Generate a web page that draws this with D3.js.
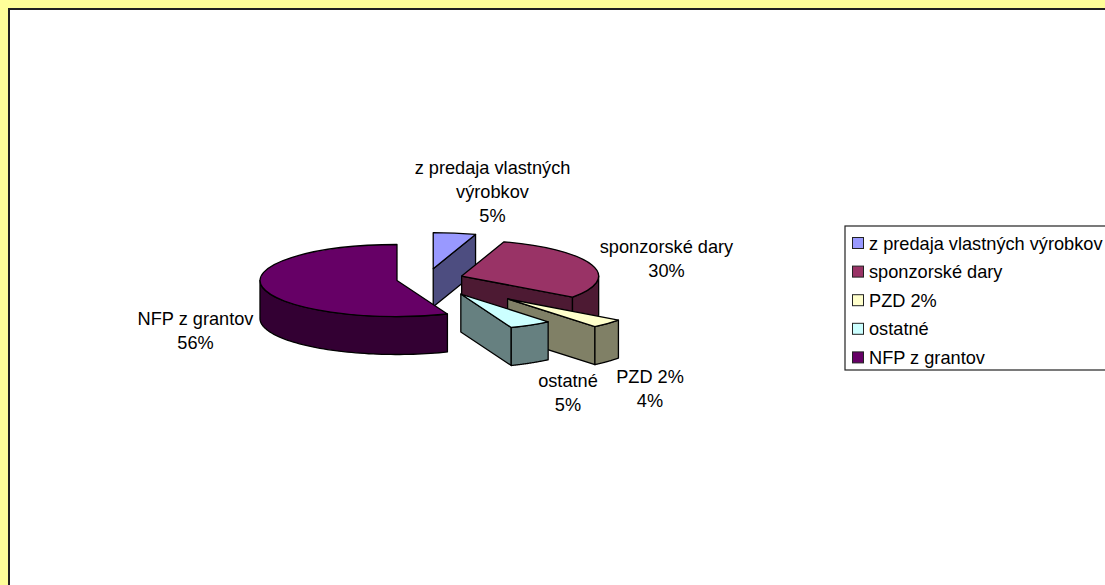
<!DOCTYPE html>
<html>
<head>
<meta charset="utf-8">
<script src="https://cdnjs.cloudflare.com/ajax/libs/d3/7.8.5/d3.min.js"></script>
<style>
html,body{margin:0;padding:0;background:#fff;overflow:hidden}
svg{display:block}
text{font-family:"Liberation Sans",Arial,sans-serif;font-size:18.2px;fill:#000}
</style>
</head>
<body>
<svg id="c" width="1105" height="585"></svg>
<script>
const categories = ["z predaja vlastných výrobkov","sponzorské dary","PZD 2%","ostatné","NFP z grantov"];
const values = [5,30,4,5,56];
const labelLines = [["z predaja vlastných","výrobkov","5%"],["sponzorské dary","30%"],["PZD 2%","4%"],["ostatné","5%"],["NFP z grantov","56%"]];
const colors = ["#9999FF","#993366","#FFFFCC","#CCFFFF","#660066"];
const explosion = [0.29,0.266,0.807,0.485,0.223];

const W=1105,H=585,cx=427,cy=279,rx=137,ry=36,depth=38;
const labelPos = [[492.5,174],[666.5,253],[650,383],[568,386.5],[195.5,325]];
const lineGap = 24.2;
const drawOrder = [0,1,4,2,3];

const svg=d3.select("#c");
svg.append("rect").attr("width",W).attr("height",H).attr("fill","#FFFF99");
svg.append("rect").attr("x",9).attr("y",9).attr("width",W+20).attr("height",H+20)
  .attr("fill","#fff").attr("stroke","#222").attr("stroke-width",2);

const pie=d3.pie().sort(null).value(d=>d).startAngle(0).endAngle(2*Math.PI);
const arcs=pie(values);
const unitArc=d3.arc().innerRadius(0).outerRadius(1);
const half=c=>{const q=d3.rgb(c);return d3.rgb(q.r/2,q.g/2,q.b/2).formatHex();};
const px=a=>rx*Math.sin(a), py=a=>-ry*Math.cos(a);
const line=d3.line();

const g=svg.append("g").attr("stroke","#000").attr("stroke-width",1.3).attr("stroke-linejoin","round");
drawOrder.forEach(i=>{
  const d=arcs[i], mid=(d.startAngle+d.endAngle)/2, e=explosion[i];
  const ox=cx+e*px(mid), oy=cy+e*py(mid);
  const s=g.append("g").attr("transform",`translate(${ox},${oy})`);
  const wall=half(colors[i]);
  // radial wall facing the viewer
  [[d.endAngle,Math.sin(d.endAngle)>1e-6],[d.startAngle,Math.sin(d.startAngle)<-1e-6]].forEach(([a,vis])=>{
    if(!vis)return;
    s.append("path").attr("fill",wall).attr("d",line([[0,0],[px(a),py(a)],[px(a),py(a)+depth],[0,depth]])+"Z");
  });
  // curved outer wall on the front half
  const a0=Math.max(d.startAngle,Math.PI/2), a1=Math.min(d.endAngle,3*Math.PI/2);
  if(a1>a0){
    const n=60, ts=d3.range(n+1).map(k=>a0+(a1-a0)*k/n);
    const top=ts.map(a=>[px(a),py(a)]), bot=ts.slice().reverse().map(a=>[px(a),py(a)+depth]);
    s.append("path").attr("fill",wall).attr("d",line(top.concat(bot))+"Z");
  }
  // top face
  s.append("g").attr("transform",`scale(${rx},${ry})`).append("path")
    .attr("fill",colors[i]).attr("vector-effect","non-scaling-stroke").attr("d",unitArc(d));
});

// data labels
const labels=svg.append("g").attr("text-anchor","middle");
labelLines.forEach((ls,i)=>{
  const t=labels.append("text").attr("x",labelPos[i][0]).attr("y",labelPos[i][1]);
  ls.forEach((l,k)=>t.append("tspan").attr("x",labelPos[i][0]).attr("dy",k?lineGap:0).text(l));
});

// legend
const lx=845,ly=226,lh=144,rowH=28.6;
const lg=svg.append("g");
lg.append("rect").attr("x",lx).attr("y",ly).attr("width",W).attr("height",lh).attr("fill","#fff").attr("stroke","#222").attr("stroke-width",1.2);
const rows=lg.selectAll("g").data(categories).join("g")
  .attr("transform",(d,i)=>`translate(${lx},${ly+17+i*rowH})`);
rows.append("rect").attr("x",7.5).attr("y",-5.5).attr("width",11).attr("height",11)
  .attr("fill",(d,i)=>colors[i]).attr("stroke","#222").attr("stroke-width",1);
rows.append("text").attr("x",24).attr("y",6.5).text(d=>d);
</script>
</body>
</html>
